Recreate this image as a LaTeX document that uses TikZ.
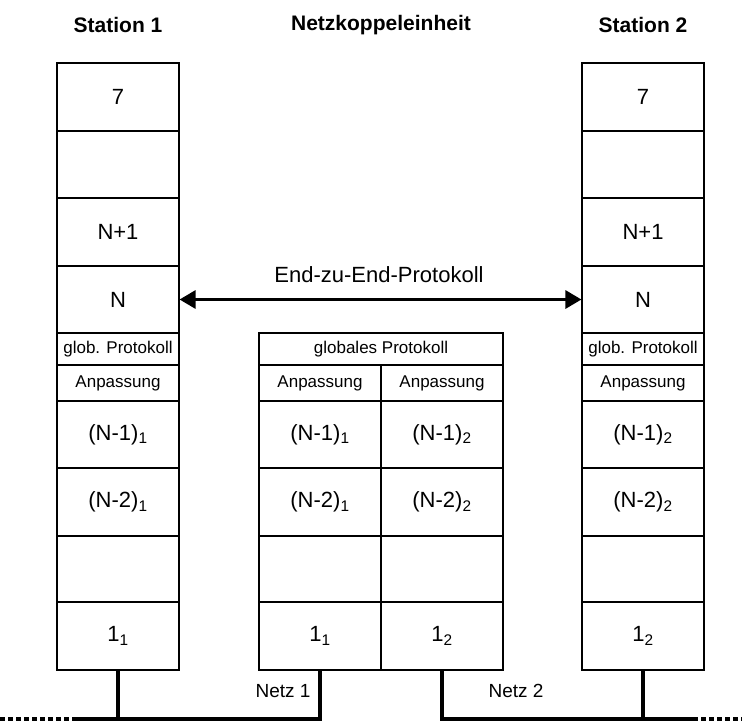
\documentclass[tikz,border=0pt]{standalone}
\usepackage{fontspec}
\setmainfont{Liberation Sans}
\usetikzlibrary{arrows.meta}
\begin{document}
\begin{tikzpicture}[x=1pt,y=-1pt,
  cell/.style={draw, line width=1.1pt, rectangle, inner sep=0pt, minimum width=122pt,
               font=\fontsize{22}{26}\selectfont},
  smallcell/.style={cell, font=\fontsize{17}{20}\selectfont},
  widecell/.style={smallcell, minimum width=244pt},
  title/.style={font=\fontsize{21}{25}\selectfont\bfseries},
  label/.style={font=\fontsize{19}{23}\selectfont},
  bus/.style={line width=4pt},
  busdots/.style={line width=4pt, dash pattern=on 5pt off 3pt},
  e2e/.style={line width=3pt, {Triangle[length=16pt,width=18pt]}-{Triangle[length=16pt,width=18pt]}}
]
\useasboundingbox (0,0) rectangle (742,726);

% column titles
\node[title] (t1) at (118,25) {Station 1};
\node[title] (tm) at (381,25) {Netzkoppeleinheit};
\node[title] (t2) at (643,25) {Station 2};

% layer stacks of both stations (rows given as top/bottom y)
\foreach \s/\x/\k in {a/118/1, b/643/2} {
  \node[cell, minimum height=68pt] (\s7)   at (\x, 97)    {7};
  \node[cell, minimum height=67pt] (\s6)   at (\x, 164.5) {};
  \node[cell, minimum height=68pt] (\s5)   at (\x, 232)   {N+1};
  \node[cell, minimum height=67pt] (\s4)   at (\x, 299.5) {N};
  \node[smallcell, minimum height=32pt] (\s g) at (\x, 349) {glob. Protokoll};
  \node[smallcell, minimum height=36pt] (\s p) at (\x, 383) {Anpassung};
  \node[cell, minimum height=67pt] (\s3)   at (\x, 434.5) {(N-1)\textsubscript{\k}};
  \node[cell, minimum height=68pt] (\s2)   at (\x, 502)   {(N-2)\textsubscript{\k}};
  \node[cell, minimum height=66pt] (\s e)  at (\x, 569)   {};
  \node[cell, minimum height=68pt] (\s1)   at (\x, 636)   {1\textsubscript{\k}};
}

% coupling unit
\node[widecell, minimum height=32pt] (mg) at (381,349) {globales Protokoll};
\foreach \s/\x/\k in {l/320/1, r/442/2} {
  \node[smallcell, minimum height=36pt] (m\s p) at (\x, 383) {Anpassung};
  \node[cell, minimum height=67pt] (m\s3) at (\x, 434.5) {(N-1)\textsubscript{\k}};
  \node[cell, minimum height=68pt] (m\s2) at (\x, 502)   {(N-2)\textsubscript{\k}};
  \node[cell, minimum height=66pt] (m\s e) at (\x, 569)  {};
  \node[cell, minimum height=68pt] (m\s1) at (\x, 636)   {1\textsubscript{\k}};
}

% end-to-end protocol
\draw[e2e] (a4.east) -- (b4.west);
\node[label, font=\fontsize{22}{26}\selectfont] (e2elabel) at (379,275) {End-zu-End-Protokoll};

% networks
\coordinate (n1a) at (118,719);
\coordinate (n1b) at (320,719);
\coordinate (n2a) at (442,719);
\coordinate (n2b) at (643,719);
\coordinate (d1s) at (0,719);
\coordinate (d1e) at (72,719);
\coordinate (d2s) at (693,719);
\coordinate (d2e) at (742,719);

\draw[bus] (a1.south) -- (n1a) -- (n1b) -- (ml1.south);
\draw[bus] (d1e) -- (n1a);
\draw[busdots] (d1s) -- (d1e);
\draw[bus] (mr1.south) -- (n2a) -- (n2b) -- (b1.south);
\draw[bus] (n2b) -- (d2s);
\draw[busdots] (d2s) -- (d2e);

\node[label] (netz1) at (283,691) {Netz 1};
\node[label] (netz2) at (516,691) {Netz 2};
\end{tikzpicture}
\end{document}
